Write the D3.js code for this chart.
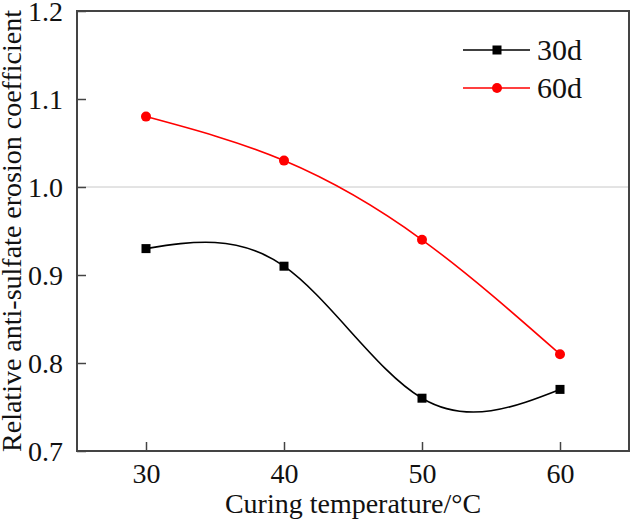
<!DOCTYPE html>
<html><head><meta charset="utf-8">
<script src="https://cdn.jsdelivr.net/npm/d3@7"></script>
<style>body{margin:0;background:#fff}svg{display:block}</style>
</head><body>
<svg id="c" width="631" height="520" font-family="Liberation Serif, Times New Roman, serif"></svg>
<script>
const temperatures = [30, 40, 50, 60];
const series30d = [0.93, 0.91, 0.76, 0.77];
const series60d = [1.08, 1.03, 0.94, 0.81];
const seriesNames = ["30d", "60d"];
const xTicks = [30, 40, 50, 60];
const yTicks = [0.7, 0.8, 0.9, 1.0, 1.1, 1.2];
const refValue = 1.0;

const svg = d3.select("#c");
const L = 77, R = 629, T = 11, B = 451;
const x = d3.scaleLinear().domain([25, 65]).range([L, R]);
const y = d3.scaleLinear().domain([0.7, 1.2]).range([B, T]);

// reference line
svg.append("line").attr("x1", L).attr("x2", R).attr("y1", y(refValue)).attr("y2", y(refValue))
  .attr("stroke", "#c8c8c8").attr("stroke-width", 1);

const axisColor = "#444";
const xAxis = svg.append("g").attr("transform", `translate(0,${B})`)
  .call(d3.axisBottom(x).tickValues(xTicks).tickSizeInner(-9).tickSizeOuter(0).tickPadding(14).tickFormat(d3.format("d")));
const yAxis = svg.append("g").attr("transform", `translate(${L},0)`)
  .call(d3.axisLeft(y).tickValues(yTicks).tickSizeInner(-9).tickSizeOuter(0).tickPadding(14).tickFormat(d3.format(".1f")));
[xAxis, yAxis].forEach(g => {
  g.attr("font-size", 28).attr("font-family", "Liberation Serif, Times New Roman, serif");
  g.select(".domain").remove();
  g.selectAll(".tick line").attr("stroke", axisColor).attr("stroke-width", 1.5);
  g.selectAll(".tick text").attr("fill", "#111");
});
xAxis.selectAll(".tick text").attr("y", 32).attr("dy", "0");
yAxis.selectAll(".tick text").attr("dy", "0.34em");

// frame
svg.append("rect").attr("x", L).attr("y", T).attr("width", R - L).attr("height", B - T)
  .attr("fill", "none").attr("stroke", axisColor).attr("stroke-width", 2);

const line = d3.line().x(d => x(d[0])).y(d => y(d[1])).curve(d3.curveNatural);
const data = [
  {name: seriesNames[0], vals: series30d, color: "#000", shape: "square"},
  {name: seriesNames[1], vals: series60d, color: "#ff0000", shape: "circle"}
];
data.forEach(s => {
  const pts = temperatures.map((t, i) => [t, s.vals[i]]);
  svg.append("path").attr("d", line(pts)).attr("fill", "none").attr("stroke", s.color).attr("stroke-width", 1.6);
  pts.forEach(p => {
    if (s.shape === "square") svg.append("rect").attr("x", x(p[0]) - 4.5).attr("y", y(p[1]) - 4.5).attr("width", 9).attr("height", 9).attr("fill", s.color);
    else svg.append("circle").attr("cx", x(p[0])).attr("cy", y(p[1])).attr("r", 5).attr("fill", s.color);
  });
});

// legend
data.forEach((s, i) => {
  const ly = 50 + i * 38;
  svg.append("line").attr("x1", 463).attr("x2", 530).attr("y1", ly).attr("y2", ly).attr("stroke", s.color).attr("stroke-width", 1.6);
  if (s.shape === "square") svg.append("rect").attr("x", 492.5).attr("y", ly - 4.5).attr("width", 9).attr("height", 9).attr("fill", s.color);
  else svg.append("circle").attr("cx", 497).attr("cy", ly).attr("r", 5).attr("fill", s.color);
  svg.append("text").attr("x", 537).attr("y", ly).attr("dy", "0.34em").attr("font-size", 30).attr("fill", "#111").text(s.name);
});

// axis titles
svg.append("text").attr("x", (L + R) / 2).attr("y", 513).attr("text-anchor", "middle").attr("font-size", 28).attr("fill", "#111").text("Curing temperature/°C");
svg.append("text").attr("transform", `translate(21,${(T + B) / 2}) rotate(-90)`).attr("text-anchor", "middle").attr("font-size", 28).attr("fill", "#111").text("Relative anti-sulfate erosion coefficient");
</script>
</body></html>
